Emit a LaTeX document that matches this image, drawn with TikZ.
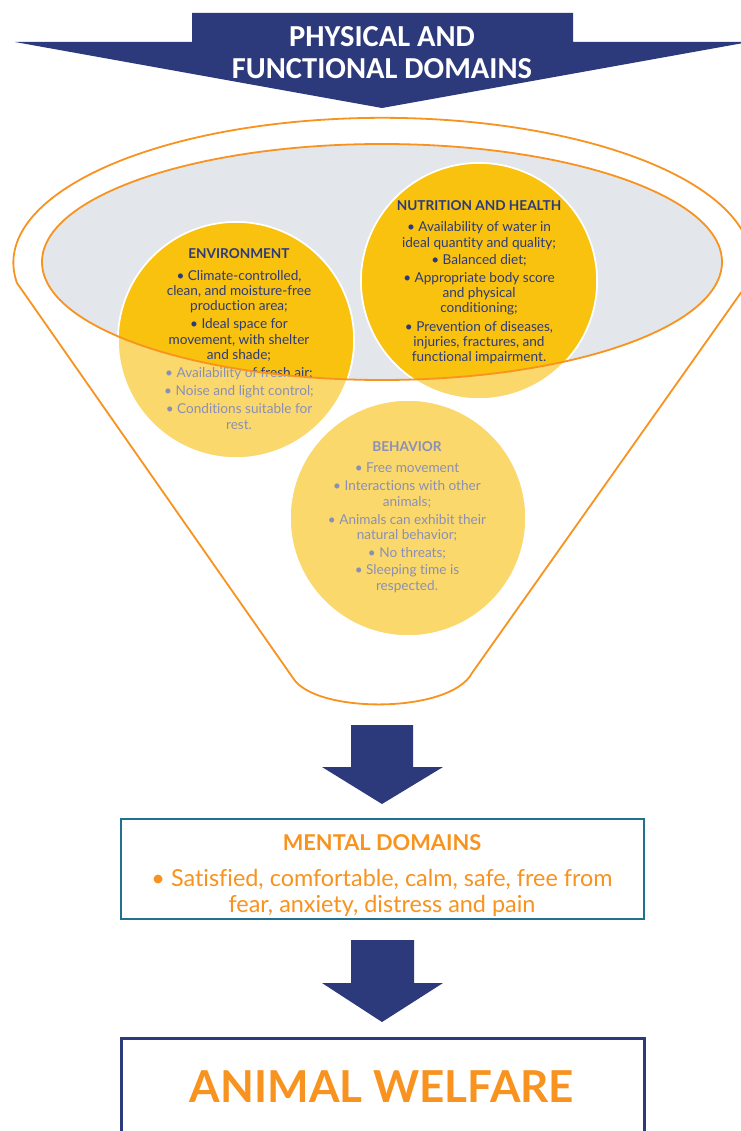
\documentclass[tikz,border=0pt]{standalone}
\usepackage{fontspec}
\setmainfont{Lato}[Ligatures=NoCommon]
\newfontfamily\narrowfont{Carlito}
\usetikzlibrary{positioning}
\definecolor{navy}{HTML}{2C3A7C}
\definecolor{boxteal}{HTML}{236F8F}
\definecolor{accent}{HTML}{F7931E}
\definecolor{gold}{HTML}{F8C20F}
\definecolor{paleyellow}{HTML}{FAD86C}
\definecolor{rimgray}{HTML}{E3E6EB}
\definecolor{palenavy}{HTML}{8A8FB8}
\tikzset{
  rim/.style={draw=accent, line width=1.8pt},
  domaincircle/.style={circle, draw=white, line width=1.6pt, minimum size=236pt, inner sep=0pt},
  domaintext/.style={align=center, inner sep=0pt, font=\fontsize{13.6}{15.2}\selectfont},
}

% circle texts
\newcommand\envitems{{\bfseries ENVIRONMENT}\\[6.5pt]
  \textbullet\ Climate-controlled,\\clean, and moisture-free\\production area;\\[3pt]
  \textbullet\ Ideal space for\\movement, with shelter\\and shade;\\[3pt]
  \textbullet\ Availability of fresh air;\\[3pt]
  \textbullet\ Noise and light control;\\[3pt]
  \textbullet\ Conditions suitable for\\rest.}
\newcommand\nutitems{{\bfseries NUTRITION AND HEALTH}\\[6.5pt]
  \textbullet\ Availability of water in\\ideal quantity and quality;\\[2pt]
  \textbullet\ Balanced diet;\\[3pt]
  \textbullet\ Appropriate body score\\and physical\\conditioning;\\[3pt]
  \textbullet\ Prevention of diseases,\\injuries, fractures, and\\functional impairment.}
\newcommand\behitems{{\bfseries BEHAVIOR}\\[6pt]
  \textbullet\ Free movement\\[3pt]
  \textbullet\ Interactions with other\\animals;\\[3pt]
  \textbullet\ Animals can exhibit their\\natural behavior;\\[3pt]
  \textbullet\ No threats;\\[2pt]
  \textbullet\ Sleeping time is\\respected.}

% the three domain circles: #1 name suffix, #2 fill, #3 text colour
\newcommand\domainset[3]{%
  \node[domaincircle, fill=#2] (env#1) at (236,340) {};
  \node[domaincircle, fill=#2] (nut#1) at (479,281) {};
  \node[domaincircle, fill=#2] (beh#1) at (408,518) {};
  \node[domaintext, text=#3] (envtxt#1) at (239,339) {\envitems};
  \node[domaintext, text=#3] (nuttxt#1) at (479,282) {\nutitems};
  \node[domaintext, text=#3] (behtxt#1) at (407,517) {\behitems};
}

\begin{document}
\begin{tikzpicture}[x=1pt, y=-1pt]
  \useasboundingbox (0,0) rectangle (740,1131);
  \fill[white] (0,0) rectangle (740,1131);

  % banner arrow
  \fill[navy] (192,13) -- (573,13) -- (573,42) -- (749,42) -- (382,108) -- (15,42) -- (192,42) -- cycle;
  \node[text=white, align=center, font=\narrowfont\bfseries\fontsize{30.5}{32}\selectfont] (physical) at (382,53) {PHYSICAL AND\\FUNCTIONAL DOMAINS};

  % funnel
  \draw[rim] (17,283) arc[start angle=188, end angle=-8, x radius=369pt, y radius=145pt]
    -- (472,673) .. controls (450,714) and (315,714) .. (293,678) -- cycle;
  \fill[rimgray] (382,262) ellipse [x radius=340pt, y radius=118pt];

  % domains, pale below the rim and full colour inside it
  \domainset{lt}{paleyellow}{palenavy}
  \begin{scope}
    \clip (382,262) ellipse [x radius=340pt, y radius=118pt];
    \domainset{dk}{gold}{navy}
  \end{scope}
  \draw[rim] (382,262) ellipse [x radius=340pt, y radius=118pt];

  % funnel -> mental domains
  \fill[navy] (351,725) -- (413,725) -- (413,767) -- (443,767) -- (382,804) -- (322,767) -- (351,767) -- cycle;
  \node[draw=boxteal, line width=1.8pt, minimum width=523pt, minimum height=100pt, inner sep=0pt] (mental) at (382.5,869) {};
  \node[text=accent, font=\bfseries\fontsize{21.8}{25}\selectfont] (mentaltitle) at (382,843) {MENTAL DOMAINS};
  \node[text=accent, align=center, inner sep=0pt, font=\fontsize{23.4}{26}\selectfont] (mentalitems) at (382,893)
    {\textbullet\ Satisfied, comfortable, calm, safe, free from\\fear, anxiety, distress and pain};

  % mental domains -> welfare
  \fill[navy] (351,940) -- (414,940) -- (414,983) -- (443,983) -- (382,1022) -- (322,983) -- (351,983) -- cycle;
  \node[draw=navy, line width=3pt, minimum width=523pt, minimum height=112pt] (welfare) at (382.5,1094) {};
  \node[text=accent, font=\bfseries\fontsize{44}{48}\selectfont] (welfaretxt) at (382,1087) {ANIMAL WELFARE};
\end{tikzpicture}
\end{document}
